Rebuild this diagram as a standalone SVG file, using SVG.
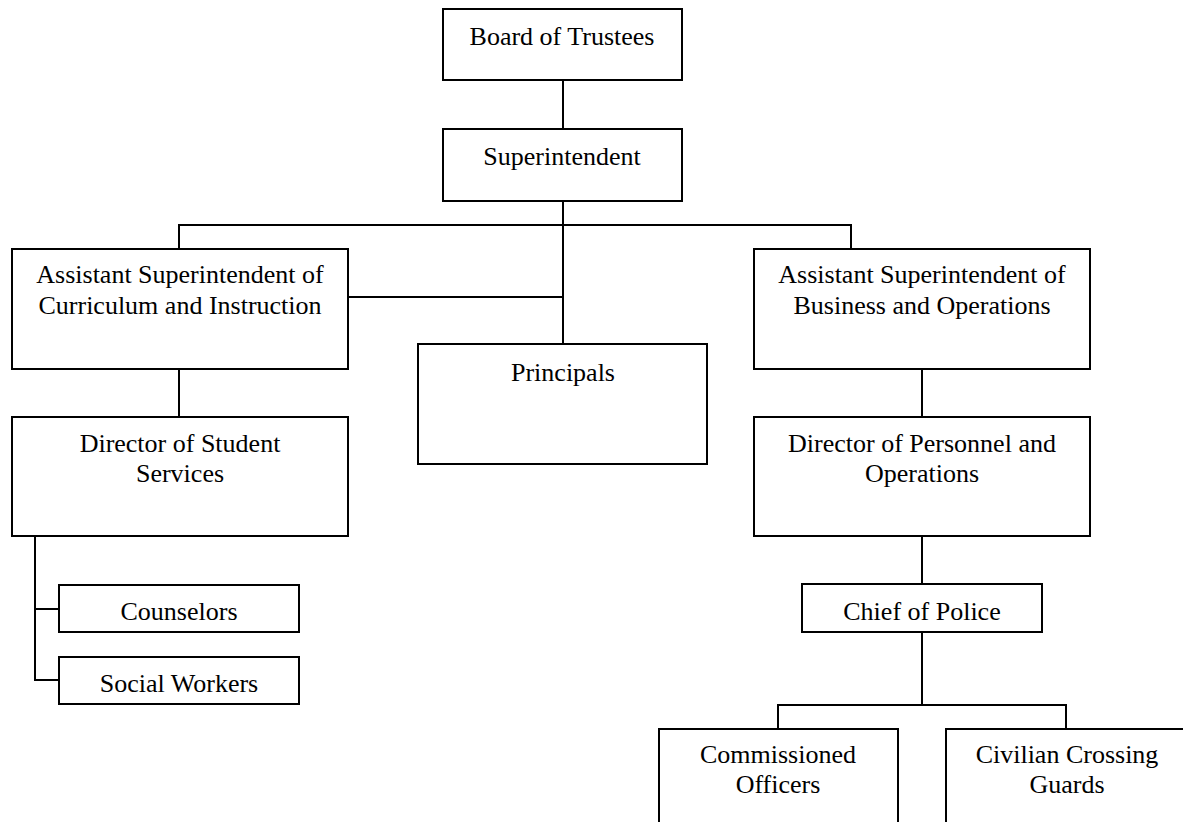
<svg xmlns="http://www.w3.org/2000/svg" width="1183" height="822" viewBox="0 0 1183 822">
<style>
.box{fill:#fff;stroke:#000;stroke-width:2}
.ln{fill:none;stroke:#000;stroke-width:2}
.t{font-family:'Liberation Serif','DejaVu Serif',serif;font-size:26px;fill:#000;text-anchor:middle}
</style>
<rect width="1183" height="822" fill="#fff"/>
<g id="connectors">
<line class="ln" x1="563" y1="80" x2="563" y2="129"/>
<line class="ln" x1="563" y1="201" x2="563" y2="344"/>
<polyline class="ln" points="179,249 179,225 851,225 851,249"/>
<line class="ln" x1="348" y1="297" x2="563" y2="297"/>
<line class="ln" x1="179" y1="369" x2="179" y2="417"/>
<polyline class="ln" points="35,536 35,680 59,680"/>
<line class="ln" x1="35" y1="609" x2="59" y2="609"/>
<line class="ln" x1="922" y1="369" x2="922" y2="417"/>
<line class="ln" x1="922" y1="536" x2="922" y2="584"/>
<line class="ln" x1="922" y1="632" x2="922" y2="705"/>
<polyline class="ln" points="778,729 778,705 1066,705 1066,729"/>
</g>
<g class="t" font-family="Liberation Serif, DejaVu Serif, serif">
<g id="board"><rect class="box" x="443" y="9" width="239" height="71"/><text x="562" y="45">Board of Trustees</text></g>
<g id="superintendent"><rect class="box" x="443" y="129" width="239" height="72"/><text x="562" y="165">Superintendent</text></g>
<g id="asst-ci"><rect class="box" x="12" y="249" width="336" height="120"/><text x="180" y="283">Assistant Superintendent of</text><text x="180" y="314">Curriculum and Instruction</text></g>
<g id="principals"><rect class="box" x="418" y="344" width="289" height="120"/><text x="563" y="381">Principals</text></g>
<g id="asst-bo"><rect class="box" x="754" y="249" width="336" height="120"/><text x="922" y="283">Assistant Superintendent of</text><text x="922" y="314">Business and Operations</text></g>
<g id="dir-ss"><rect class="box" x="12" y="417" width="336" height="119"/><text x="180" y="452">Director of Student</text><text x="180" y="482">Services</text></g>
<g id="counselors"><rect class="box" x="59" y="585" width="240" height="47"/><text x="179" y="620">Counselors</text></g>
<g id="social-workers"><rect class="box" x="59" y="657" width="240" height="47"/><text x="179" y="692">Social Workers</text></g>
<g id="dir-po"><rect class="box" x="754" y="417" width="336" height="119"/><text x="922" y="452">Director of Personnel and</text><text x="922" y="482">Operations</text></g>
<g id="chief"><rect class="box" x="802" y="584" width="240" height="48"/><text x="922" y="620">Chief of Police</text></g>
<g id="commissioned"><rect class="box" x="659" y="729" width="239" height="110"/><text x="778" y="763">Commissioned</text><text x="778" y="793">Officers</text></g>
<g id="civilian"><rect class="box" x="946" y="729" width="260" height="110"/><text x="1067" y="763">Civilian Crossing</text><text x="1067" y="793">Guards</text></g>
</g>
</svg>
